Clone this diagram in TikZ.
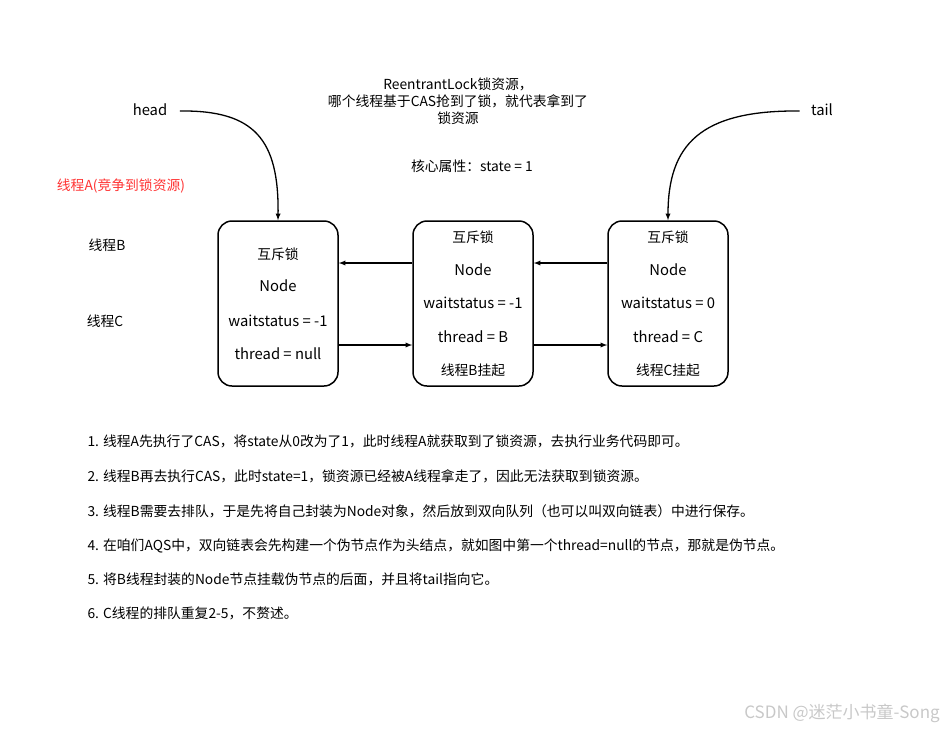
\documentclass[tikz,border=0pt]{standalone}
\usepackage{fontspec}
\setmainfont{Noto Sans CJK SC}
\usepackage{xcolor}
\usetikzlibrary{arrows}
\definecolor{myred}{RGB}{255, 51, 51}
\definecolor{mygray}{RGB}{200, 200, 200}

\begin{document}
\begin{tikzpicture}[x=1pt, y=-1pt,
  lockbox/.style={draw, line width=1.5pt, rounded corners=14pt, minimum width=120pt, minimum height=165pt, inner sep=0pt},
  boxtext/.style={font=\fontsize{14.8}{17}\selectfont},
  smalltext/.style={font=\fontsize{13.8}{17}\selectfont},
  listtext/.style={anchor=west, font=\fontsize{13.8}{16}\selectfont},
  link/.style={-latex, line width=1.3pt}]
  \useasboundingbox (0,0) rectangle (945,729);

  % the three nodes of the queue
  \node[lockbox] (n1) at (278,303.5) {};
  \node[lockbox] (n2) at (473,303.5) {};
  \node[lockbox] (n3) at (668,303.5) {};

  \node[smalltext] (n1a) at (278,254) {互斥锁};
  \node[boxtext] (n1b) at (278,286) {Node};
  \node[boxtext] (n1c) at (278,321) {waitstatus = -1};
  \node[boxtext] (n1d) at (278,354) {thread = null};

  \node[smalltext] (n2a) at (473,237) {互斥锁};
  \node[boxtext] (n2b) at (473,270) {Node};
  \node[boxtext] (n2c) at (473,303) {waitstatus = -1};
  \node[boxtext] (n2d) at (473,337) {thread = B};
  \node[smalltext] (n2e) at (473,370) {线程B挂起};

  \node[smalltext] (n3a) at (668,237) {互斥锁};
  \node[boxtext] (n3b) at (668,270) {Node};
  \node[boxtext] (n3c) at (668,303) {waitstatus = 0};
  \node[boxtext] (n3d) at (668,337) {thread = C};
  \node[smalltext] (n3e) at (668,370) {线程C挂起};

  \draw[link] (n2.west |- 0,263) -- (n1.east |- 0,263);
  \draw[link] (n1.east |- 0,345) -- (n2.west |- 0,345);
  \draw[link] (n3.west |- 0,263) -- (n2.east |- 0,263);
  \draw[link] (n2.east |- 0,345) -- (n3.west |- 0,345);

  % head and tail pointers
  \node[boxtext] (head) at (150,110) {head};
  \node[boxtext] (tail) at (822,110) {tail};
  \draw[link] (head.east) ++(9,1) .. controls (255,110) and (279,140) .. (n1.north);
  \draw[link] (tail.west) ++(-8,1) .. controls (700,110) and (668,145) .. (n3.north);

  % labels
  \node[smalltext, align=center] (title) at (458,101) {ReentrantLock锁资源，\\哪个线程基于CAS抢到了锁，就代表拿到了\\锁资源};
  \node[smalltext] (state) at (472,166) {核心属性：state = 1};
  \node[smalltext, text=myred] (ta) at (121,186) {线程A(竞争到锁资源)};
  \node[smalltext] (tb) at (107,245) {线程B};
  \node[smalltext] (tc) at (105,321) {线程C};

  % steps
  \node[listtext] (s1) at (84,441) {1. 线程A先执行了CAS，将state从0改为了1，此时线程A就获取到了锁资源，去执行业务代码即可。};
  \node[listtext] (s2) at (84,476) {2. 线程B再去执行CAS，此时state=1，锁资源已经被A线程拿走了，因此无法获取到锁资源。};
  \node[listtext] (s3) at (84,511) {3. 线程B需要去排队，于是先将自己封装为Node对象，然后放到双向队列（也可以叫双向链表）中进行保存。};
  \node[listtext] (s4) at (84,546) {4. 在咱们AQS中，双向链表会先构建一个伪节点作为头结点，就如图中第一个thread=null的节点，那就是伪节点。};
  \node[listtext] (s5) at (84,579) {5. 将B线程封装的Node节点挂载伪节点的后面，并且将tail指向它。};
  \node[listtext] (s6) at (84,613) {6. C线程的排队重复2-5，不赘述。};

  \node[font=\fontsize{17}{20}\selectfont, text=mygray] (mark) at (842,713) {CSDN @迷茫小书童-Song};
\end{tikzpicture}
\end{document}
